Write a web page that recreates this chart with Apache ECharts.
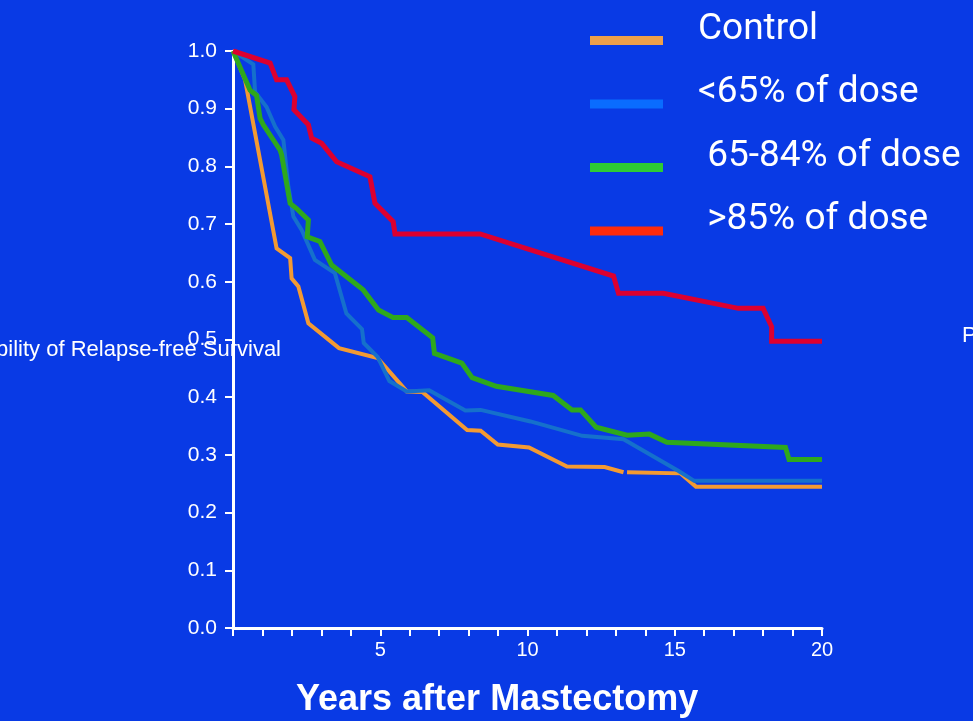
<!DOCTYPE html>
<html>
<head>
<meta charset="utf-8">
<title>Relapse-free Survival</title>
<script src="https://cdn.jsdelivr.net/npm/echarts@6/dist/echarts.min.js"></script>
<style>
  html, body { margin: 0; padding: 0; background: #093ae5; }
  #chart { width: 973px; height: 721px; }
</style>
</head>
<body>
<div id="chart"></div>
<script>
// series names as in the legend
const seriesNames = ['Control', '<65% of dose', ' 65-84% of dose', ' >85% of dose'];

// [years, probability]
const controlData = [[0, 1], [0.41, 0.95], [1.48, 0.658], [1.94, 0.641], [1.99, 0.606], [2.22, 0.592],
  [2.56, 0.528], [3.6, 0.485], [4.91, 0.468], [5.9, 0.41], [6.43, 0.409], [7.95, 0.343], [8.41, 0.342],
  [8.99, 0.318], [10.05, 0.313], [11.34, 0.28], [12.62, 0.279], [13.26, 0.27], [13.32, null],
  [13.38, 0.27], [15.2, 0.268], [15.72, 0.245], [20, 0.245]];
const lowDoseData = [[0, 1], [0.69, 0.977], [0.75, 0.929], [1.14, 0.903], [1.43, 0.869], [1.71, 0.846],
  [1.88, 0.765], [2.05, 0.713], [2.33, 0.69], [2.78, 0.638], [3.46, 0.615], [3.85, 0.545], [4.38, 0.518],
  [4.44, 0.494], [4.91, 0.47], [5.31, 0.428], [5.9, 0.41], [6.66, 0.412], [7.89, 0.377], [8.41, 0.378],
  [10.1, 0.358], [11.86, 0.333], [13.26, 0.327], [15.13, 0.272], [15.66, 0.255], [20, 0.255]];
const midDoseData = [[0, 1], [0.58, 0.932], [0.8, 0.923], [0.92, 0.883], [1.03, 0.872], [1.6, 0.828],
  [1.65, 0.82], [1.94, 0.736], [2.16, 0.727], [2.56, 0.707], [2.52, 0.678], [2.95, 0.67], [3.35, 0.629],
  [4.42, 0.586], [4.94, 0.551], [5.43, 0.538], [5.9, 0.538], [6.78, 0.503], [6.84, 0.476], [7.77, 0.459],
  [8.12, 0.434], [8.94, 0.419], [10.87, 0.403], [11.51, 0.378], [11.8, 0.378], [12.33, 0.348],
  [13.38, 0.334], [14.14, 0.336], [14.73, 0.322], [18.76, 0.313], [18.88, 0.292], [20, 0.292]];
const highDoseData = [[0, 1], [1.26, 0.979], [1.48, 0.95], [1.82, 0.95], [2.1, 0.921], [2.07, 0.898],
  [2.56, 0.872], [2.67, 0.849], [3.01, 0.84], [3.52, 0.808], [4.65, 0.782], [4.82, 0.736], [5.44, 0.704],
  [5.5, 0.683], [8.39, 0.683], [12.92, 0.61], [13.09, 0.58], [14.61, 0.58], [17.16, 0.554], [18.0, 0.554],
  [18.29, 0.522], [18.29, 0.497], [20, 0.497]];

const xLabels = [5, 10, 15, 20];

const lineColors = ['#f39a32', '#1570cc', '#2ea81c', '#dc0030'];
const legendColors = ['#eea04a', '#0a6cff', '#2ecc33', '#ff2a0a'];
const lineWidths = [4, 4, 5, 5];
const allData = [controlData, lowDoseData, midDoseData, highDoseData];

let myChart = echarts.init(document.getElementById('chart'));
let option = {
  backgroundColor: '#093ae5',
  animation: false,
  title: {
    text: 'Years after Mastectomy',
    left: 291,
    top: 677,
    textStyle: { color: '#fff', fontSize: 36, fontWeight: 'bold', fontFamily: 'Liberation Sans' }
  },
  legend: {
    orient: 'vertical',
    left: 585,
    top: 6,
    itemGap: 7,
    itemWidth: 73,
    itemHeight: 9,
    icon: 'rect',
    data: seriesNames.map((n, i) => ({ name: n, itemStyle: { color: legendColors[i] } })),
    // extra empty line under the text lifts it above the swatch
    formatter: n => '{t|' + n + '}\n{s|}',
    textStyle: {
      color: '#fff',
      rich: {
        t: { color: '#fff', fontSize: 37, fontFamily: 'Roboto', lineHeight: 42, padding: [0, 0, 0, 30] },
        s: { lineHeight: 22 }
      }
    }
  },
  grid: { left: 233, right: 151, top: 51, bottom: 93 },
  xAxis: {
    type: 'value',
    min: 0,
    max: 20,
    interval: 1,
    splitLine: { show: false },
    axisLine: { lineStyle: { color: '#fff', width: 3 } },
    axisTick: { length: 8, lineStyle: { color: '#fff', width: 2 } },
    axisLabel: {
      color: '#fff',
      fontSize: 20,
      fontFamily: 'Liberation Sans',
      margin: 12,
      formatter: v => (xLabels.indexOf(v) >= 0 ? String(v) : '')
    }
  },
  yAxis: {
    type: 'value',
    min: 0,
    max: 1,
    interval: 0.1,
    splitLine: { show: false },
    axisLine: { lineStyle: { color: '#fff', width: 3 } },
    axisTick: { length: 8, lineStyle: { color: '#fff', width: 2 } },
    axisLabel: {
      color: '#fff',
      fontSize: 21,
      fontFamily: 'Liberation Sans',
      margin: 16,
      formatter: v => v.toFixed(1)
    }
  },
  graphic: [
    {
      type: 'text', style: {
        text: 'Probability of Relapse-free Survival', x: 281, y: 350,
        align: 'right', verticalAlign: 'middle', fill: '#fff', fontSize: 22, fontFamily: 'Liberation Sans'
      }
    },
    {
      type: 'text', style: {
        text: 'Probability of Relapse-free Survival', x: 962, y: 336,
        align: 'left', verticalAlign: 'middle', fill: '#fff', fontSize: 22, fontFamily: 'Liberation Sans'
      }
    }
  ],
  series: seriesNames.map((n, i) => ({
    name: n,
    type: 'line',
    data: allData[i],
    showSymbol: false,
    symbol: 'none',
    connectNulls: false,
    color: lineColors[i],
    lineStyle: { color: lineColors[i], width: lineWidths[i], join: 'miter' },
    z: 2 + i
  }))
};
myChart.setOption(option);
</script>
</body>
</html>
